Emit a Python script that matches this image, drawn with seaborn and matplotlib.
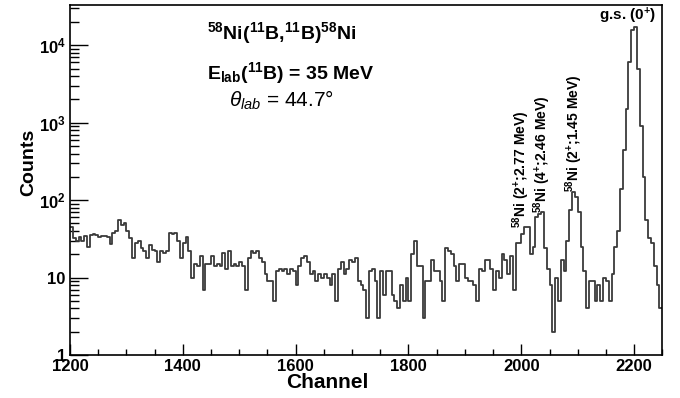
import numpy as np
import pandas as pd
import matplotlib
matplotlib.use("Agg")
import matplotlib.pyplot as plt
import seaborn as sns
from matplotlib.ticker import MultipleLocator, LogLocator, NullFormatter

# spectrum, 5-channel bins starting at channel 1200
first_channel = 1200
bin_width = 5

counts_1200_1750 = [
    45, 32, 30, 33, 30, 34, 25, 36, 37, 36,
    33, 34, 34, 33, 27, 38, 40, 55, 48, 50,
    40, 32, 18, 28, 30, 24, 22, 18, 26, 23,
    22, 16, 22, 21, 22, 38, 37, 38, 30, 18,
    28, 33, 22, 10, 15, 14, 19, 7, 15, 15,
    19, 14, 15, 14, 21, 13, 22, 14, 15, 14,
    16, 14, 7, 18, 22, 21, 22, 18, 16, 11,
    9, 9, 5, 12, 13, 12, 13, 11, 13, 12,
    8, 14, 18, 19, 16, 11, 12, 9, 11, 10,
    11, 10, 8, 11, 5, 13, 16, 11, 13, 17,
    16, 18, 9, 8, 7, 3, 12, 13, 9, 3,
]
counts_1750_2160 = [
    12, 6, 12, 12, 6, 5, 4, 8, 5, 10,
    5, 20, 30, 14, 14, 3, 9, 9, 17, 12,
    12, 9, 5, 24, 22, 20, 14, 9, 15, 15,
    10, 9, 9, 8, 5, 13, 12, 17, 17, 13,
    7, 12, 10, 20, 17, 11, 19, 7, 28, 28,
    37, 45, 45, 20, 25, 60, 66, 70, 24, 13,
    8, 2, 10, 5, 17, 12, 30, 75, 127, 110,
    70, 25, 12, 4, 9, 9, 5, 8, 5, 10,
    9, 5,
]
counts_2160_2250 = [
    11, 25, 40, 140, 450, 1500, 6000, 16000, 17000, 5000,
    900, 200, 55, 32, 28, 14, 8, 4,
]

x_ticks = [1200, 1400, 1600, 1800, 2000, 2200]
y_ticks = [1, 10, 100, 1000, 10000]
y_tick_labels = ["1", "10", r"$\mathbf{10^{2}}$", r"$\mathbf{10^{3}}$", r"$\mathbf{10^{4}}$"]

counts = counts_1200_1750 + counts_1750_2160 + counts_2160_2250
edges = [first_channel + bin_width * k for k in range(len(counts) + 1)]
df = pd.DataFrame({"channel": [e + bin_width / 2 for e in edges[:-1]], "counts": counts})

sns.set_theme(style="ticks")
plt.rcParams["font.family"] = ["Liberation Sans", "DejaVu Sans"]
plt.rcParams["mathtext.fontset"] = "custom"
plt.rcParams["mathtext.rm"] = "Liberation Sans"
plt.rcParams["mathtext.bf"] = "Liberation Sans:bold"
plt.rcParams["mathtext.it"] = "Liberation Sans:italic"
for key in ["text.color", "axes.labelcolor", "xtick.color", "ytick.color", "axes.edgecolor"]:
    plt.rcParams[key] = "black"

fig = plt.figure(figsize=(6.8, 3.98), dpi=100)
ax = fig.add_axes([0.103, 0.108, 0.871, 0.879])

sns.histplot(data=df, x="channel", weights="counts", bins=edges,
             element="step", fill=False, color="#3a3a3a", linewidth=1.3, ax=ax)

ax.set_yscale("log")
ax.set_xlim(1200, 2250)
ax.set_ylim(1, 3.3e4)

ax.set_xticks(x_ticks)
ax.set_xticklabels([str(t) for t in x_ticks], fontweight="bold", fontsize=12)
ax.xaxis.set_minor_locator(MultipleLocator(50))
ax.set_yticks(y_ticks)
ax.set_yticklabels(y_tick_labels, fontweight="bold", fontsize=12)
ax.yaxis.set_minor_locator(LogLocator(base=10, subs=range(2, 10)))
ax.yaxis.set_minor_formatter(NullFormatter())

ax.tick_params(axis="both", which="both", direction="in", top=False, right=False, width=1.0)
ax.tick_params(axis="x", which="major", length=8, pad=3)
ax.tick_params(axis="x", which="minor", length=4)
ax.tick_params(axis="y", which="major", length=13, pad=3)
ax.tick_params(axis="y", which="minor", length=6.5)
for s in ax.spines.values():
    s.set_linewidth(1.2)

ax.set_xlabel("Channel", fontweight="bold", fontsize=15)
ax.xaxis.set_label_coords(0.434, -0.05)
ax.set_ylabel("Counts", fontweight="bold", fontsize=14)
ax.yaxis.set_label_coords(-0.056, 0.55)

# reaction info
ax.text(0.357, 0.92, r"$\mathbf{^{58}}$Ni($\mathbf{^{11}}$B,$\mathbf{^{11}}$B)$\mathbf{^{58}}$Ni",
        transform=ax.transAxes, ha="center", va="center", fontsize=14, fontweight="bold")
ax.text(0.373, 0.805, r"E$\mathbf{_{lab}}$($\mathbf{^{11}}$B) = 35 MeV",
        transform=ax.transAxes, ha="center", va="center", fontsize=14, fontweight="bold")
ax.text(0.357, 0.728, r"$\theta_{lab}$ = 44.7°",
        transform=ax.transAxes, ha="center", va="center", fontsize=15)

# peak labels
ax.text(1999, 44, r"$\mathbf{^{58}}$Ni (2$\mathbf{^{+}}$;2.77 MeV)", rotation=90,
        ha="center", va="bottom", fontsize=10, fontweight="bold")
ax.text(2037, 68, r"$\mathbf{^{58}}$Ni (4$\mathbf{^{+}}$;2.46 MeV)", rotation=90,
        ha="center", va="bottom", fontsize=10, fontweight="bold")
ax.text(2093, 127, r"$\mathbf{^{58}}$Ni (2$\mathbf{^{+}}$;1.45 MeV)", rotation=90,
        ha="center", va="bottom", fontsize=10, fontweight="bold")
ax.text(2189, 24000, r"g.s. (0$\mathbf{^{+}}$)", ha="center", va="center",
        fontsize=11, fontweight="bold")

fig.savefig("out.png", dpi=100)
